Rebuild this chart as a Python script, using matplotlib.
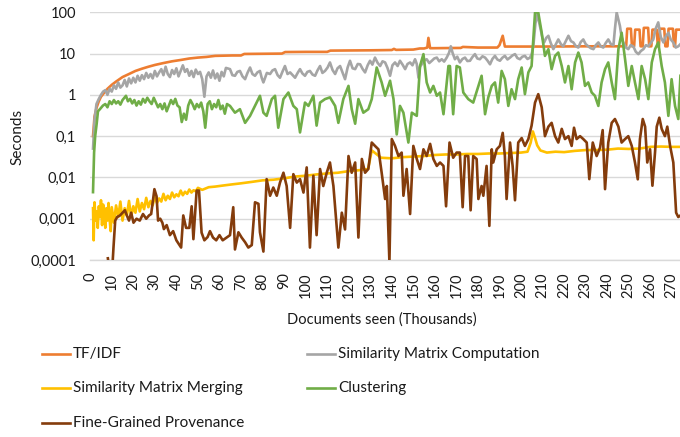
import matplotlib
matplotlib.use("Agg")
import matplotlib.pyplot as plt
from matplotlib.lines import Line2D

plt.rcParams['font.family'] = ['Lato', 'DejaVu Sans']

# ---- data: documents seen (thousands) vs. seconds per step ----
tfidf_x = [1.3, 2, 3, 4, 5, 6, 8, 10, 12, 15, 18, 21, 24, 27, 30, 34, 38, 42, 46, 50,
           54, 58, 62, 66, 70, 71.5, 80, 89, 90.5, 100, 110, 111.5, 120, 130, 140, 141, 142, 150, 153, 155,
           156.5, 157, 157.8, 159, 165, 172, 173, 180, 189, 190, 191.5, 192.5, 200, 210, 220, 230, 240, 248.8, 249.3, 251,
           251.5, 252.5, 253, 255, 255.5, 256.5, 257, 259, 259.5, 260.5, 261, 263, 263.5, 264, 264.5, 266.5, 267, 268, 268.5, 270.5,
           271, 271.5, 272, 274]
tfidf_s = [0.1, 0.3, 0.5, 0.7, 0.9, 1.05, 1.4, 1.75, 2.1, 2.7, 3.2, 3.8, 4.3, 4.8, 5.3, 5.9, 6.5, 7.0, 7.6, 8.0,
           8.3, 8.8, 8.9, 9.0, 9.0, 9.8, 9.9, 10.0, 10.9, 11.0, 11.0, 11.8, 11.9, 12.0, 12.2, 13.0, 12.3, 12.5, 13.3, 13.3,
           14.0, 24.0, 13.5, 13.5, 13.6, 13.7, 14.5, 14.0, 14.0, 16.0, 27.0, 14.8, 14.8, 14.8, 14.9, 15.0, 15.0, 15.0, 40, 40,
           15, 15, 38, 38, 15, 15, 42, 42, 15, 15, 38, 38, 15, 15, 40, 40, 15, 15, 40, 40,
           15, 15, 38, 38]

smc_x = [1.3, 2, 2.9, 4, 5, 6, 7, 8, 9, 10, 11, 12, 13, 14, 15, 16, 17, 18, 19, 20,
         21, 22, 23, 24, 25, 26, 27, 28, 29, 30, 31, 32, 33, 34, 35, 36, 37, 38, 39, 40,
         41, 42, 43, 44, 45, 46, 47, 48, 49, 50, 51, 52, 53, 54, 55, 56, 57, 58, 59, 60,
         61, 62, 63, 64.9, 66, 67.2, 68.3, 69.5, 70.7, 71.9, 73, 74.2, 75.3, 76.5, 77.6, 78.8, 79.6, 80.4, 82, 83.5,
         84.6, 85.8, 87, 88.1, 89.2, 90.4, 91.6, 92.8, 94, 95.1, 96.3, 97.4, 98.5, 99.7, 100.8, 102, 103.2, 104.4, 105.5, 106.7,
         107.8, 109, 110.2, 111.3, 112.5, 113.7, 114.8, 116, 117.2, 118.3, 119.5, 120.6, 121.8, 123, 124.2, 125.3, 126.5, 127.6, 128.8, 129.9,
         131, 132.2, 133.4, 134.6, 135.7, 136.9, 138, 139.2, 140.3, 141.5, 142.7, 143.8, 145, 146.2, 147.3, 148.5, 149.6, 150.8, 151.6, 152.4,
         153.1, 153.9, 155, 156.2, 157.4, 158.6, 159.7, 160.9, 162, 163.2, 164.3, 165.5, 166.6, 167.4, 168.2, 169.3, 170.4, 171.6, 172.8, 174,
         175.1, 176.3, 177.4, 178.6, 179.7, 180.9, 182.1, 183.3, 184.4, 185.6, 186.7, 187.9, 189, 190.2, 191.3, 192.5, 193.7, 194.9, 196, 197.2,
         198.3, 199.5, 200.6, 201.8, 203, 204.2, 205, 205.7, 206.7, 207.6, 208.3, 209.1, 209.9, 210.7, 211.7, 212.7, 213.8, 215, 216.2, 217.3,
         218.5, 219.6, 220.8, 222, 223.2, 224.3, 225.5, 226.6, 227.7, 228.9, 230, 231.2, 232.4, 233.6, 234.7, 235.9, 237, 238.2, 239.3, 240.5,
         241.7, 242.9, 243.6, 244.4, 245.1, 245.9, 246.7, 247.5, 248.7, 249.8, 250.9, 252.1, 253.3, 254.5, 255.6, 256.8, 258, 259.1, 260.2, 261.4,
         262.5, 263.7, 264.9, 266.1, 267.2, 268.4, 269.5, 270.7, 271.8, 273, 274]
smc_s = [0.05, 0.25, 0.6, 0.8, 1.0, 1.2, 1.3, 1.0, 1.4, 1.2, 1.7, 1.4, 2.0, 1.5, 1.7, 2.3, 1.6, 2.5, 1.9, 2.6,
         2.0, 2.9, 2.2, 3.0, 2.4, 3.4, 2.6, 3.2, 2.5, 3.8, 2.8, 3.5, 4.2, 3.0, 4.8, 3.2, 2.7, 4.0, 3.2, 4.4,
         2.8, 3.8, 5.2, 3.6, 4.2, 2.9, 3.8, 2.7, 4.1, 3.2, 3.6, 2.4, 0.9, 2.8, 3.5, 2.6, 3.9, 2.5, 3.3, 2.2,
         3.6, 2.8, 4.5, 4.2, 3.0, 2.9, 3.6, 3.8, 2.8, 2.4, 3.4, 4.6, 3.2, 2.9, 3.5, 3.8, 2.6, 2.0, 3.4, 3.2,
         3.9, 4.2, 3.0, 2.6, 3.6, 5.0, 3.2, 3.5, 3.0, 2.6, 3.4, 4.2, 3.3, 2.9, 3.6, 3.8, 3.1, 2.9, 3.9, 5.0,
         3.4, 3.8, 4.6, 6.1, 4.0, 3.2, 4.4, 5.0, 3.4, 2.4, 4.6, 6.7, 4.4, 4.2, 5.6, 5.5, 4.2, 3.5, 5.2, 6.7,
         5.4, 8.0, 6.0, 5.0, 6.5, 6.1, 4.5, 2.9, 5.2, 6.1, 5.0, 6.7, 5.4, 4.2, 5.6, 6.1, 5.2, 7.3, 5.6, 2.6,
         4.8, 5.5, 6.8, 7.3, 5.9, 6.7, 7.6, 8.0, 6.5, 7.3, 6.4, 8.0, 10.5, 15, 10.5, 7.3, 8.4, 6.1, 7.4, 8.0,
         6.6, 6.7, 8.2, 9.7, 7.6, 7.3, 8.6, 8.0, 6.8, 5.5, 7.4, 8.8, 7.2, 6.7, 7.9, 8.8, 7.2, 8.0, 9.0, 9.7,
         7.8, 7.3, 8.4, 8.8, 7.4, 8.0, 10, 15, 55, 90, 60, 39, 24, 18.6, 24, 27, 18, 12.8, 17, 22,
         17, 15, 20, 27, 20, 18.6, 15, 14, 19, 22, 17, 15, 13.5, 12.8, 16, 18.6, 15, 14, 18, 22,
         17, 16, 40, 99, 70, 47, 25, 18.6, 14, 12.8, 16, 15, 11, 9.7, 11.5, 12.8, 16, 15, 18, 22,
         40, 57, 25, 18.6, 26, 32, 22, 18.6, 14, 15, 17]

smm_x = [1.3, 1.6, 2, 2.5, 3, 3.5, 4, 4.5, 5, 5.5, 6, 6.5, 7, 7.5, 8, 8.5, 9, 9.5, 10, 11,
         12, 13, 14, 15, 16, 17, 18, 19, 20, 21, 22, 23, 24, 25, 26, 27, 28, 29, 30, 31,
         32, 33, 34, 35, 36, 37, 38, 39, 40, 41, 42, 43, 44, 45, 46, 47, 48, 49, 50, 52,
         55, 58, 62, 66, 70, 75, 80, 85, 90, 95, 100, 105, 110, 115, 120, 125, 129, 130.7, 132, 135,
         140, 145, 150, 155, 160, 165, 170, 175, 180, 185, 190, 195, 200, 203, 204.5, 205.5, 206.5, 207.5, 209, 212,
         216, 220, 225, 230, 235, 240, 245, 250, 255, 260, 265, 270, 274]
smm_s = [0.0018, 0.0003, 0.0025, 0.0009, 0.0015, 0.0006, 0.002, 0.0011, 0.0028, 0.0007, 0.0022, 0.0012, 0.0006, 0.0018, 0.0009, 0.0024, 0.001, 0.0005, 0.0019, 0.0008,
         0.0021, 0.0011, 0.0026, 0.0009, 0.0018, 0.0012, 0.0027, 0.0011, 0.002, 0.0014, 0.003, 0.0015, 0.0024, 0.0017, 0.0032, 0.0019, 0.0027, 0.0021, 0.0035, 0.0024,
         0.0031, 0.0026, 0.004, 0.0028, 0.0036, 0.003, 0.0043, 0.0033, 0.0039, 0.0035, 0.0048, 0.0037, 0.0045, 0.004, 0.0051, 0.0043, 0.0049, 0.0046, 0.0056, 0.005,
         0.0058, 0.006, 0.0064, 0.0068, 0.0072, 0.0078, 0.0085, 0.0088, 0.0095, 0.0105, 0.011, 0.0118, 0.0125, 0.013, 0.0142, 0.015, 0.016, 0.045, 0.04, 0.03,
         0.029, 0.031, 0.032, 0.033, 0.035, 0.036, 0.036, 0.037, 0.037, 0.038, 0.038, 0.039, 0.04, 0.042, 0.07, 0.13, 0.09, 0.06, 0.045, 0.04,
         0.042, 0.041, 0.044, 0.046, 0.046, 0.047, 0.05, 0.049, 0.05, 0.055, 0.056, 0.055, 0.055]

clu_x = [1.3, 1.8, 2.3, 3, 3.6, 4.5, 5.9, 7, 8, 9, 10, 11, 12, 13, 14, 15, 16.6, 17.5, 18.5, 19.5,
         20.5, 21.5, 22.5, 23.5, 24.5, 25.5, 26.5, 27.5, 28.5, 29.5, 30.5, 31.5, 32.5, 33.5, 34.5, 35.5, 36.5, 37.5, 38.5, 39.5,
         40.5, 41.5, 42.5, 43.5, 44.5, 45.5, 46.5, 47.5, 48.5, 49.5, 50.5, 51.5, 52.5, 53.4, 54.5, 55.5, 56.5, 57.5, 58.5, 59.5,
         60.5, 61.5, 62.5, 63.5, 64.9, 67.2, 69.5, 71.9, 74.2, 76.5, 78.8, 80.4, 81.9, 84.3, 85.8, 87.3, 89.7, 92, 94.3, 95.9,
         97.4, 99.7, 101.3, 103.6, 105.1, 106.7, 109, 111.3, 113.7, 115.2, 117.5, 119.9, 121.4, 123, 124.5, 126.8, 129.1, 130.7, 133, 135.3,
         136.9, 139.2, 140.8, 142.3, 143.8, 145.4, 147.7, 149.3, 151.6, 153.1, 154.7, 156.2, 157.8, 159.3, 160.9, 162.4, 164, 166.3, 167, 168.5,
         170.1, 171.6, 173.2, 175.5, 177.8, 180.2, 181.7, 183.3, 184.8, 186.4, 187.9, 189.4, 191, 192.5, 194.1, 195.6, 197.2, 198.7, 200.3, 201.8,
         203.4, 204.9, 206.5, 208, 209.6, 211.1, 212.7, 214.2, 215.8, 217.3, 218.9, 220.4, 222, 223.5, 225.1, 226.6, 228.1, 229.7, 231.2, 232.8,
         234.3, 235.9, 237.4, 239, 240.5, 242.1, 243.6, 245.2, 246.7, 248.3, 249.8, 251.4, 252.9, 254.5, 256, 257.6, 259.1, 260.7, 262.2, 263.7,
         265.3, 266.8, 268.4, 269.9, 271.5, 273, 274]
clu_s = [0.0044, 0.04, 0.1, 0.2, 0.4, 0.45, 0.55, 0.6, 0.5, 0.7, 0.6, 0.75, 0.62, 0.7, 0.58, 0.75, 0.95, 0.7, 0.8, 0.62,
         0.75, 0.55, 0.7, 0.58, 0.8, 0.65, 0.85, 0.7, 0.6, 0.85, 0.65, 0.5, 0.6, 0.45, 0.62, 0.4, 0.55, 0.75, 0.6, 0.8,
         0.55, 0.5, 0.22, 0.35, 0.25, 0.55, 0.75, 0.6, 0.45, 0.6, 0.5, 0.65, 0.4, 0.16, 0.6, 0.7, 0.45, 0.6, 0.5, 0.75,
         0.45, 0.55, 0.35, 0.6, 0.54, 0.37, 0.45, 0.21, 0.31, 0.54, 0.95, 0.37, 0.31, 0.79, 0.95, 0.16, 0.79, 1.14, 0.54, 0.45,
         0.123, 0.65, 0.54, 0.95, 0.18, 0.65, 0.79, 0.87, 0.54, 0.21, 0.79, 1.65, 0.45, 0.2, 0.79, 0.37, 0.45, 0.79, 4.6, 2.0,
         0.95, 2.2, 0.79, 0.11, 0.54, 0.37, 0.07, 0.37, 0.31, 5.0, 9.7, 2.0, 1.14, 1.65, 0.95, 1.14, 0.34, 5.0, 5.0, 0.34,
         5.0, 4.6, 1.14, 0.79, 0.65, 1.65, 2.9, 0.34, 0.87, 1.65, 2.0, 0.65, 3.8, 2.4, 0.54, 1.37, 0.79, 2.4, 4.6, 1.04,
         3.5, 5.0, 99, 99, 32, 8.8, 12.8, 4.2, 8.8, 10.6, 5.0, 2.0, 5.0, 1.37, 6.1, 10.6, 6.1, 1.65, 2.0, 1.14,
         0.95, 0.54, 2.0, 4.2, 6.1, 2.0, 0.79, 12.8, 32, 7.3, 1.65, 5.0, 2.0, 0.79, 5.0, 2.4, 0.79, 6.1, 12.8, 18.6,
         5.0, 2.0, 0.31, 2.4, 0.54, 0.26, 2.9]

fgp_x = [8.2, 8.8, 10.3, 10.8, 11.6, 12.5, 13.8, 15, 16.1, 17, 18, 19, 20.1, 21.5, 23, 24.5, 26, 27.3, 28.3, 29.8,
         30.8, 31.5, 32.5, 33.5, 34.2, 35.5, 37, 38.5, 40, 42.2, 43.2, 44.5, 46, 47.1, 47.9, 49.4, 50.5, 51.7, 53, 54.5,
         55.6, 57, 58.5, 60, 61.5, 63.3, 64.9, 66.4, 67.2, 68.8, 70.3, 71.9, 73.4, 75, 76.5, 78.1, 78.8, 80.4, 81.9, 83.5,
         85, 86.6, 88.1, 89.7, 91.2, 92.8, 94.3, 95.9, 97.4, 99, 100.5, 102, 103.6, 105.1, 106.7, 108.2, 109.8, 111.3, 112.9, 115.2,
         116.8, 118.3, 119.9, 121.4, 123, 124.5, 126.1, 127.6, 129.1, 130.7, 132.2, 133.8, 135.3, 136.9, 137.7, 138.9, 140, 141.5, 143.1, 144.6,
         145.4, 146.9, 148.5, 150, 151.6, 153.1, 154.7, 156.2, 157.8, 159.3, 160.9, 162.4, 164, 165.2, 166.8, 168.5, 170.1, 171.6, 172.9, 174,
         175.5, 176.6, 177.8, 179.4, 180.2, 181.7, 182.5, 184, 185.3, 186.4, 187.1, 188.7, 190.2, 191.5, 192.5, 193.3, 194.9, 196.1, 197.2, 198.7,
         200.3, 201.8, 203.4, 204.9, 206.5, 208, 209.6, 211.1, 212.7, 214.2, 215.8, 217.3, 218.9, 220.4, 222, 223.5, 224.6, 225.8, 227.4, 228.9,
         230.5, 231.7, 233.3, 235.1, 236.7, 237.9, 239, 240.5, 242.1, 243.6, 245.2, 246.7, 248.3, 249.8, 251.4, 252.9, 254.2, 255.2, 256.5, 257.6,
         258.6, 259.9, 261, 262.2, 263, 264.2, 265.3, 266.8, 267.9, 269.2, 270.7, 272, 273, 274]
fgp_s = [0.00011, 0.00006, 0.00007, 0.0002, 0.0009, 0.0011, 0.0012, 0.0014, 0.0016, 0.0012, 0.0009, 0.0014, 0.0008, 0.001, 0.0009, 0.0013, 0.001, 0.0012, 0.0013, 0.0052,
         0.0035, 0.0009, 0.001, 0.0008, 0.00056, 0.0007, 0.0004, 0.0005, 0.0003, 0.0002, 0.0012, 0.0006, 0.0006, 0.002, 0.00032, 0.0048, 0.0048, 0.00046, 0.0003, 0.00036,
         0.0005, 0.00035, 0.0003, 0.0004, 0.0003, 0.00035, 0.0004, 0.0019, 0.00018, 0.00047, 0.00035, 0.00027, 0.0002, 0.00023, 0.0025, 0.0023, 0.00047, 0.00016, 0.0091, 0.0036,
         0.0057, 0.0036, 0.0075, 0.013, 0.0062, 0.0006, 0.012, 0.0075, 0.0091, 0.0043, 0.0175, 0.0002, 0.011, 0.0004, 0.016, 0.0062, 0.013, 0.023, 0.0062, 0.0002,
         0.0014, 0.00055, 0.033, 0.013, 0.023, 0.00035, 0.028, 0.013, 0.016, 0.07, 0.058, 0.048, 0.013, 0.003, 0.0062, 0.00009, 0.085, 0.058, 0.033, 0.04,
         0.0036, 0.016, 0.0013, 0.058, 0.028, 0.016, 0.048, 0.033, 0.065, 0.028, 0.019, 0.023, 0.019, 0.002, 0.07, 0.03, 0.04, 0.04, 0.0019, 0.033,
         0.033, 0.0016, 0.033, 0.028, 0.003, 0.0062, 0.0036, 0.019, 0.00067, 0.048, 0.023, 0.048, 0.058, 0.12, 0.033, 0.003, 0.07, 0.019, 0.0028, 0.07,
         0.09, 0.058, 0.085, 0.18, 0.65, 1.04, 0.5, 0.1, 0.17, 0.21, 0.1, 0.07, 0.15, 0.085, 0.1, 0.058, 0.16, 0.085, 0.1, 0.085,
         0.07, 0.0091, 0.07, 0.033, 0.053, 0.14, 0.0052, 0.07, 0.21, 0.26, 0.17, 0.07, 0.085, 0.1, 0.058, 0.023, 0.009, 0.085, 0.26, 0.17,
         0.023, 0.048, 0.0063, 0.04, 0.17, 0.28, 0.15, 0.1, 0.17, 0.058, 0.023, 0.0014, 0.0011, 0.0012]

series = [
    ("TF/IDF", tfidf_x, tfidf_s, "#ED7D31"),
    ("Similarity Matrix Computation", smc_x, smc_s, "#A5A5A5"),
    ("Similarity Matrix Merging", smm_x, smm_s, "#FFC000"),
    ("Clustering", clu_x, clu_s, "#70AD47"),
    ("Fine-Grained Provenance", fgp_x, fgp_s, "#843C0C"),
]

x_ticks = list(range(0, 271, 10))
y_ticks = [0.0001, 0.001, 0.01, 0.1, 1, 10, 100]
y_tick_labels = ["0,0001", "0,001", "0,01", "0,1", "1", "10", "100"]

W, H = 680, 437
LW = 1.9
fig = plt.figure(figsize=(W / 100, H / 100), dpi=100)
ax = fig.add_axes([90 / W, (H - 260) / H, 590 / W, (260 - 12.3) / H])

for i, (name, xs, ys, color) in enumerate(series):
    ax.plot(xs, ys, color=color, lw=LW, solid_joinstyle='round', zorder=2 + i)

ax.set_yscale('log')
ax.set_ylim(1e-4, 100)
ax.set_xlim(-0.1, 273.8)
ax.set_yticks(y_ticks)
ax.set_yticklabels(y_tick_labels)
ax.yaxis.set_minor_locator(matplotlib.ticker.NullLocator())
ax.set_xticks(x_ticks)
ax.set_xticklabels([str(t) for t in x_ticks], rotation=90)
ax.tick_params(axis='both', length=0, labelsize=10.5, colors='#1a1a1a')
ax.tick_params(axis='y', pad=10)
ax.tick_params(axis='x', pad=9)

ax.grid(True, axis='y', color='#D9D9D9', lw=1.0, zorder=0)
ax.set_axisbelow(True)
for side in ('top', 'right', 'left'):
    ax.spines[side].set_visible(False)
ax.spines['bottom'].set_color('#D9D9D9')
ax.spines['bottom'].set_linewidth(1.0)

fig.text(17 / W, 1 - 137 / H, "Seconds", rotation=90, ha='center', va='center',
         fontsize=11, color='#1a1a1a')
fig.text(382 / W, 1 - 320 / H, "Documents seen (Thousands)", ha='center', va='center',
         fontsize=10.5, color='#1a1a1a')

# legend laid out in two columns below the plot
legend_pos = [(42, 354), (307, 354), (42, 388), (307, 388), (42, 423)]
for (name, xs, ys, color), (lx, ly) in zip(series, legend_pos):
    fig.add_artist(Line2D([lx / W, (lx + 28) / W], [1 - ly / H, 1 - ly / H],
                          transform=fig.transFigure, color=color, lw=LW))
    fig.text((lx + 31) / W, 1 - ly / H, name, ha='left', va='center',
             fontsize=11, color='#1a1a1a')

fig.savefig("out.png", dpi=100)
